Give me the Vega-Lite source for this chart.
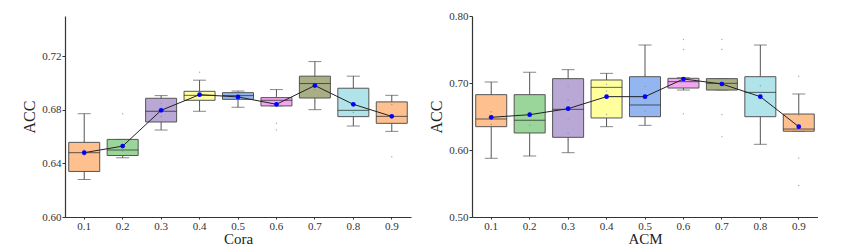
{
  "$schema": "https://vega.github.io/schema/vega-lite/v6.json",
  "padding": {"left": 21, "top": 10, "right": 0, "bottom": 0},
  "bounds": "flush",
  "spacing": 61,
  "background": "white",
  "config": {
    "view": {"stroke": null},
    "font": "Liberation Serif",
    "axis": {"grid": false, "domainColor": "#333", "tickColor": "#333", "labelColor": "#333", "titleColor": "#222", "labelFont": "Liberation Serif", "titleFont": "Liberation Serif", "titleFontWeight": "normal", "labelFontSize": 11, "labelOverlap": false}
  },
  "datasets": {
    "cora": [
      {"x": "0.1", "lo": 0.628, "q1": 0.634, "med": 0.648, "q3": 0.6557, "hi": 0.6771, "mean": 0.648},
      {"x": "0.2", "lo": 0.6442, "q1": 0.6459, "med": 0.650, "q3": 0.6579, "hi": 0.6579, "mean": 0.6529},
      {"x": "0.3", "lo": 0.6649, "q1": 0.6709, "med": 0.6789, "q3": 0.6886, "hi": 0.6906, "mean": 0.6796},
      {"x": "0.4", "lo": 0.6789, "q1": 0.6871, "med": 0.6908, "q3": 0.6938, "hi": 0.7021, "mean": 0.6913},
      {"x": "0.5", "lo": 0.6819, "q1": 0.6878, "med": 0.6906, "q3": 0.6928, "hi": 0.694, "mean": 0.6896},
      {"x": "0.6", "lo": 0.6829, "q1": 0.6829, "med": 0.6871, "q3": 0.6891, "hi": 0.6951, "mean": 0.6841},
      {"x": "0.7", "lo": 0.6801, "q1": 0.6888, "med": 0.6996, "q3": 0.7051, "hi": 0.716, "mean": 0.6981},
      {"x": "0.8", "lo": 0.6679, "q1": 0.6749, "med": 0.6796, "q3": 0.6961, "hi": 0.7051, "mean": 0.6841},
      {"x": "0.9", "lo": 0.6639, "q1": 0.6699, "med": 0.6751, "q3": 0.6859, "hi": 0.6908, "mean": 0.6751}
    ],
    "cora_pts": [
      {"x": "0.1", "v": 0.657}, {"x": "0.1", "v": 0.646}, {"x": "0.1", "v": 0.650},
      {"x": "0.2", "v": 0.677}, {"x": "0.2", "v": 0.649},
      {"x": "0.3", "v": 0.685}, {"x": "0.3", "v": 0.682}, {"x": "0.3", "v": 0.675},
      {"x": "0.4", "v": 0.708}, {"x": "0.4", "v": 0.682},
      {"x": "0.5", "v": 0.693},
      {"x": "0.6", "v": 0.665}, {"x": "0.6", "v": 0.670}, {"x": "0.6", "v": 0.690},
      {"x": "0.7", "v": 0.703}, {"x": "0.7", "v": 0.686}, {"x": "0.7", "v": 0.695},
      {"x": "0.8", "v": 0.701}, {"x": "0.8", "v": 0.678},
      {"x": "0.9", "v": 0.645}, {"x": "0.9", "v": 0.684}
    ],
    "acm": [
      {"x": "0.1", "lo": 0.5876, "q1": 0.6348, "med": 0.6463, "q3": 0.6826, "hi": 0.7015, "mean": 0.6488},
      {"x": "0.2", "lo": 0.591, "q1": 0.6254, "med": 0.6443, "q3": 0.6826, "hi": 0.7159, "mean": 0.6527},
      {"x": "0.3", "lo": 0.596, "q1": 0.6189, "med": 0.6607, "q3": 0.7065, "hi": 0.7199, "mean": 0.6617},
      {"x": "0.4", "lo": 0.6348, "q1": 0.6478, "med": 0.6935, "q3": 0.7045, "hi": 0.7144, "mean": 0.6796},
      {"x": "0.5", "lo": 0.6368, "q1": 0.6497, "med": 0.6672, "q3": 0.7094, "hi": 0.7567, "mean": 0.6796},
      {"x": "0.6", "lo": 0.6895, "q1": 0.6925, "med": 0.702, "q3": 0.707, "hi": 0.708, "mean": 0.706},
      {"x": "0.7", "lo": 0.6895, "q1": 0.6895, "med": 0.6995, "q3": 0.7065, "hi": 0.7065, "mean": 0.6985},
      {"x": "0.8", "lo": 0.6085, "q1": 0.6497, "med": 0.686, "q3": 0.7094, "hi": 0.7567, "mean": 0.6796},
      {"x": "0.9", "lo": 0.628, "q1": 0.628, "med": 0.6313, "q3": 0.6537, "hi": 0.6836, "mean": 0.6348}
    ],
    "acm_pts": [
      {"x": "0.1", "v": 0.657}, {"x": "0.1", "v": 0.638}, {"x": "0.1", "v": 0.591},
      {"x": "0.2", "v": 0.637}, {"x": "0.2", "v": 0.614},
      {"x": "0.3", "v": 0.695}, {"x": "0.3", "v": 0.675}, {"x": "0.3", "v": 0.645}, {"x": "0.3", "v": 0.625}, {"x": "0.3", "v": 0.615},
      {"x": "0.4", "v": 0.698}, {"x": "0.4", "v": 0.688}, {"x": "0.4", "v": 0.653},
      {"x": "0.5", "v": 0.711}, {"x": "0.5", "v": 0.695}, {"x": "0.5", "v": 0.658},
      {"x": "0.6", "v": 0.765}, {"x": "0.6", "v": 0.750}, {"x": "0.6", "v": 0.654},
      {"x": "0.7", "v": 0.765}, {"x": "0.7", "v": 0.750}, {"x": "0.7", "v": 0.653}, {"x": "0.7", "v": 0.620},
      {"x": "0.8", "v": 0.711}, {"x": "0.8", "v": 0.696}, {"x": "0.8", "v": 0.638},
      {"x": "0.9", "v": 0.710}, {"x": "0.9", "v": 0.652}, {"x": "0.9", "v": 0.588}, {"x": "0.9", "v": 0.547}
    ]
  },
  "hconcat": [
    {
      "width": 346,
      "height": 201,
      "encoding": {
        "x": {"field": "x", "type": "ordinal", "title": "Cora",
          "scale": {"domain": ["0.1","0.2","0.3","0.4","0.5","0.6","0.7","0.8","0.9"], "paddingInner": 0, "paddingOuter": 0},
          "axis": {"labelAngle": 0, "tickSize": 2, "labelPadding": 1, "titleFontSize": 15, "titlePadding": 0, "domainWidth": 1.2}}
      },
      "layer": [
        {"data": {"name": "cora"}, "mark": {"type": "rule", "color": "#555", "strokeWidth": 1},
          "encoding": {"y": {"field": "lo", "type": "quantitative",
            "scale": {"domain": [0.60, 0.75], "nice": false, "zero": false},
            "axis": {"values": [0.60,0.62,0.64,0.66,0.68,0.70,0.72,0.74],
              "format": ".2f", "labelOverlap": false, "tickSize": 3,
              "labelPadding": 1, "title": "ACC", "titleFontSize": 16, "titlePadding": 4, "domainWidth": 1.2}},
            "y2": {"field": "hi"}}},
        {"data": {"name": "cora"}, "mark": {"type": "tick", "color": "#555", "size": 13, "thickness": 1},
          "encoding": {"y": {"field": "lo", "type": "quantitative"}}},
        {"data": {"name": "cora"}, "mark": {"type": "tick", "color": "#555", "size": 13, "thickness": 1},
          "encoding": {"y": {"field": "hi", "type": "quantitative"}}},
        {"data": {"name": "cora"}, "mark": {"type": "bar", "size": 31, "stroke": "#555", "strokeWidth": 1},
          "encoding": {"y": {"field": "q1", "type": "quantitative"}, "y2": {"field": "q3"},
            "color": {"field": "x", "type": "nominal", "legend": null,
              "scale": {"domain": ["0.1","0.2","0.3","0.4","0.5","0.6","0.7","0.8","0.9"],
                "range": ["#FDC08E","#9AD69A","#B9A7D5","#FFFF9E","#93B5F0","#F2A6EF","#A9AE85","#B0E3EA","#FDC08E"]}}}},
        {"data": {"name": "cora"}, "mark": {"type": "tick", "color": "#222", "size": 31, "thickness": 1},
          "encoding": {"y": {"field": "med", "type": "quantitative"}}},
        {"data": {"name": "cora_pts"}, "mark": {"type": "circle", "color": "#888", "size": 2, "opacity": 0.7},
          "encoding": {"y": {"field": "v", "type": "quantitative"}}},
        {"data": {"name": "cora"}, "mark": {"type": "line", "color": "#222", "strokeWidth": 1},
          "encoding": {"y": {"field": "mean", "type": "quantitative"}}},
        {"data": {"name": "cora"}, "mark": {"type": "circle", "color": "#0000FF", "size": 22, "opacity": 1},
          "encoding": {"y": {"field": "mean", "type": "quantitative"}}}
      ]
    },
    {
      "width": 346,
      "height": 201,
      "encoding": {
        "x": {"field": "x", "type": "ordinal", "title": "ACM",
          "scale": {"domain": ["0.1","0.2","0.3","0.4","0.5","0.6","0.7","0.8","0.9"], "paddingInner": 0, "paddingOuter": 0},
          "axis": {"labelAngle": 0, "tickSize": 2, "labelPadding": 1, "titleFontSize": 15, "titlePadding": 0, "domainWidth": 1.2}}
      },
      "layer": [
        {"data": {"name": "acm"}, "mark": {"type": "rule", "color": "#555", "strokeWidth": 1},
          "encoding": {"y": {"field": "lo", "type": "quantitative",
            "scale": {"domain": [0.50, 0.80], "nice": false, "zero": false},
            "axis": {"values": [0.50,0.55,0.60,0.65,0.70,0.75,0.80],
              "format": ".2f", "labelOverlap": false, "tickSize": 3,
              "labelPadding": 1, "title": "ACC", "titleFontSize": 16, "titlePadding": 4, "domainWidth": 1.2}},
            "y2": {"field": "hi"}}},
        {"data": {"name": "acm"}, "mark": {"type": "tick", "color": "#555", "size": 13, "thickness": 1},
          "encoding": {"y": {"field": "lo", "type": "quantitative"}}},
        {"data": {"name": "acm"}, "mark": {"type": "tick", "color": "#555", "size": 13, "thickness": 1},
          "encoding": {"y": {"field": "hi", "type": "quantitative"}}},
        {"data": {"name": "acm"}, "mark": {"type": "bar", "size": 31, "stroke": "#555", "strokeWidth": 1},
          "encoding": {"y": {"field": "q1", "type": "quantitative"}, "y2": {"field": "q3"},
            "color": {"field": "x", "type": "nominal", "legend": null,
              "scale": {"domain": ["0.1","0.2","0.3","0.4","0.5","0.6","0.7","0.8","0.9"],
                "range": ["#FDC08E","#9AD69A","#B9A7D5","#FFFF9E","#93B5F0","#F2A6EF","#A9AE85","#B0E3EA","#FDC08E"]}}}},
        {"data": {"name": "acm"}, "mark": {"type": "tick", "color": "#222", "size": 31, "thickness": 1},
          "encoding": {"y": {"field": "med", "type": "quantitative"}}},
        {"data": {"name": "acm_pts"}, "mark": {"type": "circle", "color": "#888", "size": 2, "opacity": 0.7},
          "encoding": {"y": {"field": "v", "type": "quantitative"}}},
        {"data": {"name": "acm"}, "mark": {"type": "line", "color": "#222", "strokeWidth": 1},
          "encoding": {"y": {"field": "mean", "type": "quantitative"}}},
        {"data": {"name": "acm"}, "mark": {"type": "circle", "color": "#0000FF", "size": 22, "opacity": 1},
          "encoding": {"y": {"field": "mean", "type": "quantitative"}}}
      ]
    }
  ]
}
